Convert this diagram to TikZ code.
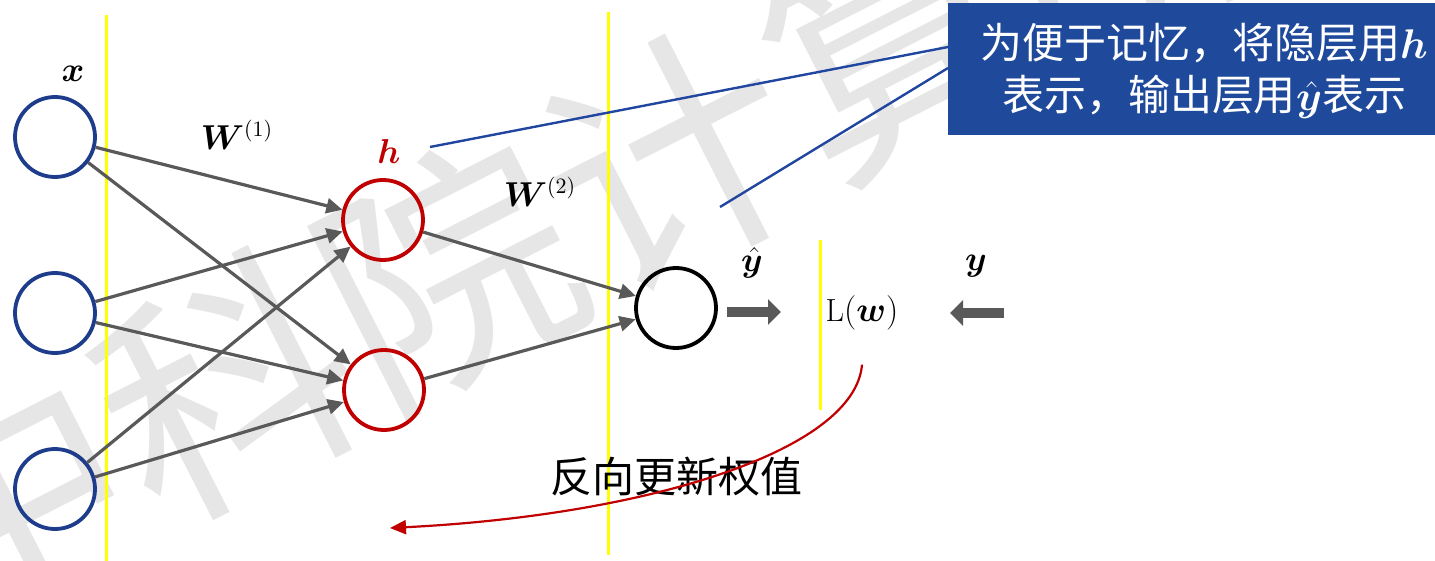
\documentclass[tikz,border=0pt]{standalone}
\usepackage{fontspec}
\usepackage{amsmath,bm}
\newfontfamily\cjk{Noto Sans CJK SC}
\usetikzlibrary{arrows.meta}
\definecolor{nblue}{RGB}{30,60,140}
\definecolor{nred}{RGB}{192,0,0}
\definecolor{ngray}{RGB}{89,89,89}
\definecolor{nyellow}{RGB}{255,255,0}
\definecolor{boxblue}{RGB}{31,73,155}
\definecolor{lineblue}{RGB}{32,70,160}
\definecolor{wmark}{RGB}{230,230,230}
\tikzset{
  neuron/.style={circle,minimum size=40pt,inner sep=0pt,line width=1.9pt},
  inneuron/.style={neuron,draw=nblue},
  hidneuron/.style={neuron,draw=nred},
  outneuron/.style={neuron,draw=black},
  conn/.style={draw=ngray,line width=1.6pt,-{Triangle[length=8pt,width=7.5pt]}},
  guide/.style={draw=nyellow,line width=1.5pt},
  lbl/.style={inner sep=0pt,font=\fontsize{16}{19}\selectfont},
  slbl/.style={inner sep=0pt,font=\fontsize{18}{21}\selectfont},
  fatarrow/.style={draw=ngray,line width=5pt,-{Triangle[length=6.5pt,width=12.5pt]}},
  callout/.style={draw=lineblue,line width=1.2pt},
}
\begin{document}
\begin{tikzpicture}[x=0.5pt,y=-0.5pt]
\useasboundingbox (0,0) rectangle (1435,561);
% watermark
\node[text=wmark,rotate=27,inner sep=0pt,font=\cjk\fontsize{125}{125}\selectfont] (wm) at (560,215) {中科院计算所};
% guides
\coordinate (g1a) at (106,15); \coordinate (g1b) at (106,561);
\coordinate (g2a) at (608,12); \coordinate (g2b) at (608,555);
\coordinate (g3a) at (820,240); \coordinate (g3b) at (820,410);
\draw[guide] (g1a) -- (g1b);
\draw[guide] (g2a) -- (g2b);
\draw[guide] (g3a) -- (g3b);
% neurons
\node[inneuron] (i1) at (55,137) {};
\node[inneuron] (i2) at (55,313) {};
\node[inneuron] (i3) at (55,489) {};
\node[hidneuron] (h1) at (383,220) {};
\node[hidneuron] (h2) at (384,390) {};
\node[outneuron] (o) at (676,308) {};
% connections
\foreach \a in {i1,i2,i3}{\foreach \b in {h1,h2}{\draw[conn] (\a) -- (\b);}}
\draw[conn] (h1) -- (o);
\draw[conn] (h2) -- (o);
% labels
\node[slbl] (lx) at (73,74) {$\bm{x}$};
\node[lbl] (lw1) at (237,135) {$\bm{W}^{(1)}$};
\node[slbl,text=nred] (lh) at (389,152) {$\bm{h}$};
\node[lbl] (lw2) at (540,192) {$\bm{W}^{(2)}$};
\node[slbl] (lyh) at (752,263) {$\hat{\bm{y}}$};
\node[slbl] (ly) at (976,266) {$\bm{y}$};
\node[lbl] (loss) at (862,313) {L$(\bm{w})$};
% fat arrows
\coordinate (ra) at (727,312); \coordinate (rb) at (781,312);
\coordinate (la) at (1004,313); \coordinate (lb) at (950,313);
\draw[fatarrow] (ra) -- (rb);
\draw[fatarrow] (la) -- (lb);
% callout box
\fill[boxblue] (948,3) rectangle (1435,135);
\node[text=white,align=center,inner sep=0pt,font=\cjk\fontsize{21}{26}\selectfont] (note) at (1204,71)
  {为便于记忆，将隐层用$\bm{h}$\\表示，输出层用$\hat{\bm{y}}$表示};
\coordinate (c1) at (948,47); \coordinate (c2) at (948,68);
\coordinate (c3) at (720,207);
\draw[callout] (c1) -- (430,147);
\draw[callout] (c2) -- (c3);
% back propagation
\node[inner sep=0pt,font=\cjk\fontsize{21}{25}\selectfont] (bp) at (676,477) {反向更新权值};
\coordinate (bpend) at (390,528);
\draw[draw=nred,line width=1.1pt,-{Triangle[length=8pt,width=7pt]}]
  ([yshift=-17pt]loss.south) .. controls (855,450) and (650,515) .. (bpend);
\end{tikzpicture}
\end{document}
